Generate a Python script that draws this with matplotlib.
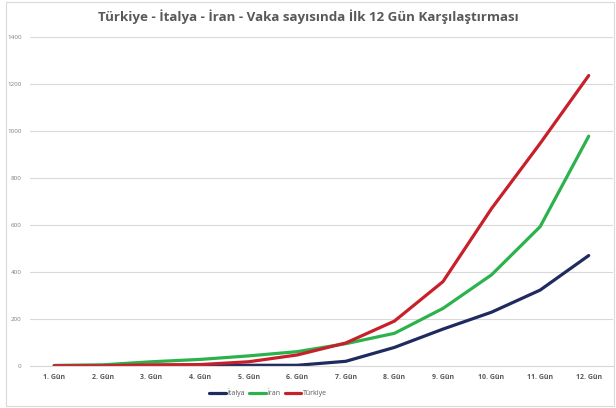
import matplotlib.pyplot as plt
from matplotlib.patches import Rectangle

gunler = ["1. Gün", "2. Gün", "3. Gün", "4. Gün", "5. Gün", "6. Gün",
          "7. Gün", "8. Gün", "9. Gün", "10. Gün", "11. Gün", "12. Gün"]
italya = [2, 2, 2, 3, 3, 3, 20, 79, 157, 229, 323, 470]
iran = [2, 5, 18, 28, 43, 61, 95, 139, 245, 388, 593, 978]
turkiye = [1, 1, 5, 6, 18, 47, 98, 191, 359, 670, 947, 1236]
yticks = [0, 200, 400, 600, 800, 1000, 1200, 1400]

plt.rcParams['font.family'] = ['Open Sans', 'DejaVu Sans']

fig = plt.figure(figsize=(6.16, 4.08), dpi=100)
ax = fig.add_axes([30/616, 1-366/408, 583/616, (366-37)/408])

x = list(range(len(gunler)))
ax.plot(x, italya, color='#1f2b5e', lw=2.3, label='İtalya', solid_capstyle='round')
ax.plot(x, iran, color='#2bb24c', lw=2.3, label='İran', solid_capstyle='round')
ax.plot(x, turkiye, color='#c8202a', lw=2.3, label='Türkiye', solid_capstyle='round')

ax.set_xlim(-0.5, len(gunler)-0.5)
ax.set_ylim(0, 1400)
ax.set_yticks(yticks)
ax.set_yticklabels([str(v) for v in yticks], fontsize=4.5, color='#7f7f7f')
ax.set_xticks(x)
ax.set_xticklabels(gunler, fontsize=5, color='#595959', fontweight='bold')
ax.tick_params(axis='both', length=0, pad=6)
ax.grid(axis='y', color='#d9d9d9', lw=0.8)
ax.set_axisbelow(True)
for s in ['top', 'right', 'left']:
    ax.spines[s].set_visible(False)
ax.spines['bottom'].set_color('#d9d9d9')

fig.text(0.5, 1-17/408, "Türkiye - İtalya - İran - Vaka sayısında İlk 12 Gün Karşılaştırması",
         ha='center', va='center', fontsize=9.6, fontweight='bold', color='#595959')

fig.legend(loc='center', bbox_to_anchor=(268/616, 1-393/408), ncol=3, frameon=False,
           fontsize=5, handlelength=2.4, columnspacing=0.6, handletextpad=0.2,
           labelcolor='#595959')

fig.patches.append(Rectangle((6/616, 2/408), 608/616, 404/408, transform=fig.transFigure,
                             fill=False, edgecolor='#d9d9d9', lw=0.8))

fig.savefig('out.png', dpi=100)
